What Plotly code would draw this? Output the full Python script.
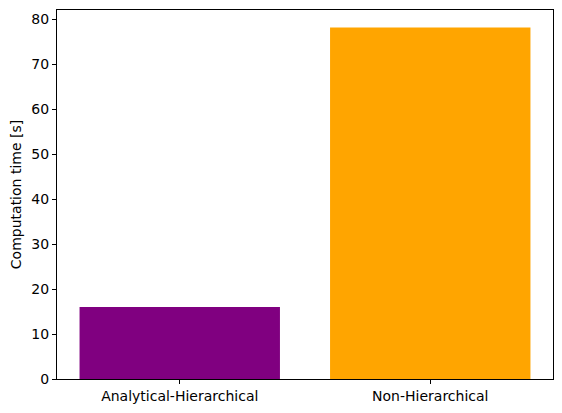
import plotly.graph_objects as go

# Computation time per method
methods = ["Analytical-Hierarchical", "Non-Hierarchical"]
times = [16.0, 78.2]
bar_colors = ["purple", "orange"]

fig = go.Figure(
    go.Bar(
        x=[0, 1],
        y=times,
        width=0.8,
        marker=dict(color=bar_colors, line=dict(width=0)),
    )
)

axis_style = dict(
    showline=True,
    linecolor="black",
    linewidth=1,
    mirror=True,
    ticks="outside",
    ticklen=4,
    tickcolor="black",
    showgrid=False,
    zeroline=False,
    tickfont=dict(size=14, color="black"),
)

fig.update_xaxes(
    range=[-0.49, 1.49],
    tickvals=[0, 1],
    ticktext=methods,
    **axis_style
)
fig.update_yaxes(
    range=[0, 82.1],
    tickvals=[0, 10, 20, 30, 40, 50, 60, 70, 80],
    title=dict(text="Computation time [s]", font=dict(size=14, color="black"), standoff=6),
    **axis_style
)

fig.update_layout(
    width=562,
    height=413,
    margin=dict(l=57, r=9, t=10, b=34),
    plot_bgcolor="white",
    paper_bgcolor="white",
    font=dict(family="DejaVu Sans", size=14, color="black"),
    showlegend=False,
)

# drop the default page margin so the figure sits at the window corner
fig.write_html(
    "out.html",
    config={"displayModeBar": False},
    post_script="document.body.style.margin='0';",
)
